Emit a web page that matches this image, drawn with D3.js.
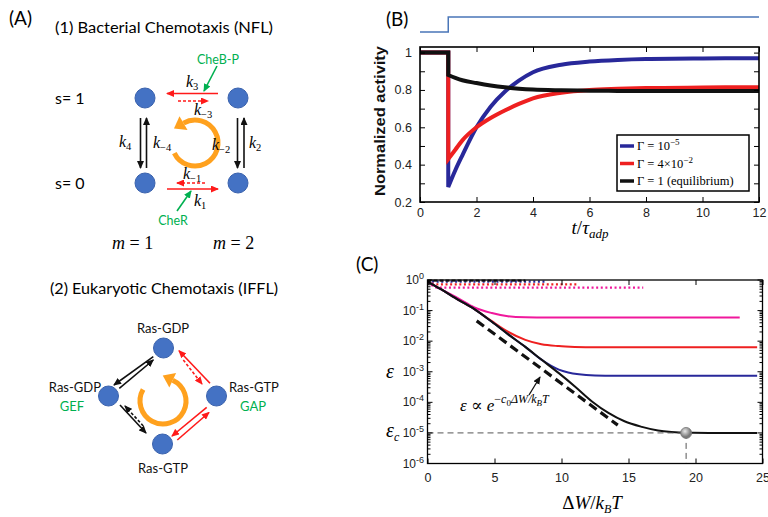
<!DOCTYPE html>
<html>
<head>
<meta charset="utf-8">
<script src="https://cdn.jsdelivr.net/npm/d3@7"></script>
<style>
  body { margin: 0; background: #fff; }
  svg { display: block; }
</style>
</head>
<body>
<script>
// ---- panel B : normalized activity after a step at t = 1 ----
var bT     = [0, 1, 1,    1.25, 1.5,  2,    2.5,  3,     3.5,  4,     5,     6,     7,     8,     10,    12];
var bBlue  = [1, 1, 0.28, 0.37, 0.45, 0.60, 0.71, 0.79,  0.85, 0.895, 0.935, 0.952, 0.961, 0.966, 0.969, 0.970];
var bRed   = [1, 1, 0.43, 0.48, 0.53, 0.60, 0.65, 0.69,  0.725,0.755, 0.785, 0.800, 0.806, 0.810, 0.813, 0.815];
var bBlack = [1, 1, 0.88, 0.865,0.852,0.837,0.824,0.814, 0.807,0.802, 0.798, 0.796, 0.795, 0.795, 0.795, 0.795];
var stepT  = [0, 1, 1, 12];
var stepV  = [0, 0, 1, 1];
var bLegend = ["Γ = 10", "Γ = 4×10", "Γ = 1 (equilibrium)"];
var bLegendExp = ["−5", "−2", ""];
var bYTicks = [0.2, 0.3, 0.4, 0.5, 0.6, 0.7, 0.8, 0.9, 1.0];
var bXTicks = [0, 2, 4, 6, 8, 10, 12];

// ---- panel C : error vs dissipated energy ----
var cBlackX = [0, 1, 2.3, 3.5, 4.8, 6, 7.3, 8.5, 9.8, 11, 12.3, 13.5, 14.7, 16, 17.2, 18.2, 19.3, 21, 24.6];
var cBlackE = [0.89, 0.5, 0.224, 0.112, 0.043, 0.017, 0.0065, 0.0025, 9.0e-4, 3.3e-4, 1.05e-4, 4.5e-5, 2.4e-5, 1.58e-5, 1.2e-5, 1.07e-5, 1.01e-5, 1.0e-5, 1.0e-5];
var cBlueX  = [0, 1, 2.3, 3.5, 4.8, 6, 7.3, 8.5, 9.2, 9.8, 10.5, 11.3, 12.5, 14, 24.6];
var cBlueE  = [0.89, 0.5, 0.224, 0.112, 0.043, 0.017, 0.0065, 0.0025, 1.58e-3, 1.17e-3, 9.5e-4, 8.3e-4, 7.6e-4, 7.4e-4, 7.4e-4];
var cRedX   = [0, 1, 2.3, 3.5, 4.8, 6, 7.3, 8.5, 9.8, 11, 12.5, 24.6];
var cRedE   = [0.89, 0.5, 0.224, 0.112, 0.045, 0.0204, 0.011, 0.0079, 0.0069, 0.0065, 0.0063, 0.0063];
var cPinkX  = [0, 1, 2.3, 3.5, 4.8, 6, 7.3, 9, 23.3];
var cPinkE  = [0.89, 0.5, 0.25, 0.126, 0.083, 0.065, 0.060, 0.059, 0.059];
// short dotted runs near the top
var cDotBlackX = [0, 0.8, 7.3],  cDotBlackE = [0.95, 0.95, 0.95];
var cDotBlueX  = [0, 0.8, 8.9],  cDotBlueE  = [0.93, 0.89, 0.89];
var cDotRedX   = [0, 0.8, 11.2], cDotRedE   = [0.88, 0.72, 0.72];
var cDotPinkX  = [0, 0.8, 16.1], cDotPinkE  = [0.85, 0.56, 0.56];
var cFitX = [3.67, 14.2];            // dashed guide  eps ~ exp(-c0 dW)
var cFitE = [0.046, 1.8e-5];
var epsC = 1e-5, dWc = 19.3;         // marked point
var cXTicks = [0, 5, 10, 15, 20, 25];
var cYExp = [0, -1, -2, -3, -4, -5, -6];

var serif = "'Liberation Serif', 'DejaVu Serif', serif";
var sans  = "'Liberation Sans', Arial, sans-serif";
var cal   = "Lato, 'Open Sans', sans-serif";

var svg = d3.select("body").append("svg").attr("width", 768).attr("height", 517);
svg.append("rect").attr("width", 768).attr("height", 517).attr("fill", "#fff");

// text with sub / superscripts, parts: {t, i (italic), lvl (px shift), fs}
function rich(g, x, y, parts, size, anchor) {
    var t = g.append("text").attr("x", x).attr("y", y)
        .attr("font-size", size).attr("font-family", serif)
        .attr("text-anchor", anchor || "start");
    var cur = 0;
    parts.forEach(function(p) {
        var lvl = p.lvl || 0;
        var ts = t.append("tspan").text(p.t);
        if (lvl !== cur) { ts.attr("dy", lvl - cur); cur = lvl; }
        if (p.i) ts.attr("font-style", "italic");
        if (p.fs) ts.attr("font-size", p.fs);
    });
    return t;
}

// arrow markers
var defs = svg.append("defs");
[["red", "#ff1a1a"], ["blk", "#111"], ["grn", "#00b050"]].forEach(function(c) {
    defs.append("marker").attr("id", "ah-" + c[0])
        .attr("markerUnits", "userSpaceOnUse")
        .attr("markerWidth", 8).attr("markerHeight", 7)
        .attr("refX", 7).attr("refY", 3.5).attr("orient", "auto")
        .append("path").attr("d", "M0,0 L8,3.5 L0,7 z").attr("fill", c[1]);
});
var grad = defs.append("radialGradient").attr("id", "ball").attr("cx", "40%").attr("cy", "35%");
grad.append("stop").attr("offset", "0%").attr("stop-color", "#e8e8e8");
grad.append("stop").attr("offset", "100%").attr("stop-color", "#7a7a7a");

function arrow(g, seg, col, dashed) {
    var colour = {red: "#ff1a1a", blk: "#111", grn: "#00b050"}[col];
    g.append("line")
        .attr("x1", seg[0]).attr("y1", seg[1]).attr("x2", seg[2]).attr("y2", seg[3])
        .attr("stroke", colour).attr("stroke-width", 1.6)
        .attr("stroke-dasharray", dashed ? "3,2" : null)
        .attr("marker-end", "url(#ah-" + col + ")");
}

function cycleArrow(g, cx, cy, r, a0, a1) {
    var rad = Math.PI / 180;
    var p0 = [cx + r * Math.cos(a0 * rad), cy + r * Math.sin(a0 * rad)];
    var p1 = [cx + r * Math.cos(a1 * rad), cy + r * Math.sin(a1 * rad)];
    var large = Math.abs(a0 - a1) > 180 ? 1 : 0;
    g.append("path")
        .attr("d", "M" + p0 + " A" + r + "," + r + " 0 " + large + " 0 " + p1)
        .attr("fill", "none").attr("stroke", "#ffa11e").attr("stroke-width", 5);
    var t = [Math.sin(a1 * rad), -Math.cos(a1 * rad)], n = [Math.cos(a1 * rad), Math.sin(a1 * rad)];
    var tip = [p1[0] + t[0] * 11, p1[1] + t[1] * 11];
    g.append("path")
        .attr("d", "M" + tip + " L" + [p1[0] + n[0] * 8, p1[1] + n[1] * 8] +
                   " L" + [p1[0] - n[0] * 8, p1[1] - n[1] * 8] + " z")
        .attr("fill", "#ffa11e");
}

function node(g, x, y) {
    g.append("circle").attr("cx", x).attr("cy", y).attr("r", 10)
        .attr("fill", "#4472c4").attr("stroke", "#3a62ad").attr("stroke-width", 1);
}

// ================= panel A =================
var gA = svg.append("g");
gA.append("text").attr("x", 9).attr("y", 25).attr("font-family", cal).attr("font-size", 19).text("(A)");
gA.append("text").attr("x", 55).attr("y", 33).attr("font-family", cal).attr("font-size", 15.5)
    .attr("textLength", 218).attr("lengthAdjust", "spacingAndGlyphs").text("(1) Bacterial Chemotaxis (NFL)");

gA.append("text").attr("x", 55).attr("y", 104).attr("font-family", cal).attr("font-size", 16).text("s= 1");
gA.append("text").attr("x", 55).attr("y", 189).attr("font-family", cal).attr("font-size", 16).text("s= 0");
rich(gA, 112, 249, [{t: "m", i: true}, {t: " = 1"}], 18);
rich(gA, 213, 249, [{t: "m", i: true}, {t: " = 2"}], 18);

cycleArrow(gA, 195, 143, 23, 154, -120);
arrow(gA, [218, 93.5, 167, 93.5], "red");
arrow(gA, [178, 101, 208, 101], "red", true);
arrow(gA, [205, 183, 177, 183], "red", true);
arrow(gA, [167, 189, 218, 189], "red");
arrow(gA, [140.5, 118, 140.5, 168], "blk");
arrow(gA, [146.5, 168, 146.5, 118], "blk");
arrow(gA, [237.5, 118, 237.5, 168], "blk");
arrow(gA, [244, 168, 244, 118], "blk");
arrow(gA, [217, 66, 204, 91], "grn");
arrow(gA, [177, 211, 191, 191], "grn");
[[145, 98], [238, 98], [145, 183], [238, 183]].forEach(function(p) { node(gA, p[0], p[1]); });

gA.append("text").attr("x", 218).attr("y", 64).attr("text-anchor", "middle").attr("font-family", cal)
    .attr("font-size", 12.5).attr("fill", "#00b050").text("CheB-P");
gA.append("text").attr("x", 173).attr("y", 225).attr("text-anchor", "middle").attr("font-family", cal)
    .attr("font-size", 12.5).attr("fill", "#00b050").text("CheR");

[["3", 186, 87], ["−3", 194, 115], ["4", 119, 147], ["−4", 153, 148], ["−2", 212, 150],
 ["2", 249, 148], ["−1", 183, 179], ["1", 194, 206]].forEach(function(k) {
    rich(gA, k[1], k[2], [{t: "k", i: true}, {t: k[0], lvl: 3, fs: 10.5}], 16);
});

gA.append("text").attr("x", 50).attr("y", 294).attr("font-family", cal).attr("font-size", 15.5)
    .attr("textLength", 228).attr("lengthAdjust", "spacingAndGlyphs").text("(2) Eukaryotic Chemotaxis (IFFL)");

cycleArrow(gA, 163, 401, 23, 210, -65);
arrow(gA, [153.3, 356.7, 114, 385], "blk");
arrow(gA, [119.3, 388.3, 153.3, 360], "blk");
arrow(gA, [120, 405, 146, 433], "blk");
arrow(gA, [143.3, 426, 125, 406], "blk", true);
arrow(gA, [210, 383.3, 179, 350.7], "red");
arrow(gA, [183.3, 360, 202, 384], "red", true);
arrow(gA, [206.7, 407.3, 172, 436], "red");
arrow(gA, [177.3, 440, 209, 412.5], "red");
[[163.5, 348], [108.5, 396], [216.5, 396], [162.5, 444]].forEach(function(p) { node(gA, p[0], p[1]); });

function lab(x, y, s, anchor, col) {
    gA.append("text").attr("x", x).attr("y", y).attr("text-anchor", anchor).attr("font-family", cal)
        .attr("font-size", 13).attr("fill", col || "#111").text(s);
}
lab(163, 333, "Ras-GDP", "middle");
lab(101, 392, "Ras-GDP", "end");
lab(72, 411, "GEF", "middle", "#00b050");
lab(229, 392, "Ras-GTP", "start");
lab(253, 411, "GAP", "middle", "#00b050");
lab(163, 473, "Ras-GTP", "middle");

// ================= panel B =================
var gB = svg.append("g");
var xB = d3.scaleLinear().domain([0, 12]).range([420, 759]);
var yB = d3.scaleLinear().domain([0.2, 1.03]).range([202, 47]);
var ySt = d3.scaleLinear().domain([0, 1]).range([32, 17]);

gB.append("text").attr("x", 386).attr("y", 26).attr("font-family", cal).attr("font-size", 19).text("(B)");

gB.append("path")
    .attr("d", d3.line().x(function(d) { return xB(d[0]); }).y(function(d) { return ySt(d[1]); })(d3.zip(stepT, stepV)))
    .attr("fill", "none").attr("stroke", "#4a76b8").attr("stroke-width", 1.5);

gB.append("rect").attr("x", 420).attr("y", 47).attr("width", 339).attr("height", 155)
    .attr("fill", "#fff");

var lnB = d3.line().x(function(d) { return xB(d[0]); }).y(function(d) { return yB(d[1]); });
var lnBs = d3.line().curve(d3.curveMonotoneX).x(function(d) { return xB(d[0]); }).y(function(d) { return yB(d[1]); });
function bPath(vals) {
    var pts = d3.zip(bT, vals);
    var head = lnB(pts.slice(0, 3));
    var tail = lnBs(pts.slice(2)).replace(/^M[^LC]*/, "");
    return head + tail;
}
[[bBlue, "#28289a"], [bRed, "#ee2020"], [bBlack, "#111"]].forEach(function(s) {
    gB.append("path").attr("d", bPath(s[0])).attr("fill", "none")
        .attr("stroke", s[1]).attr("stroke-width", 4).attr("stroke-linejoin", "miter");
});

function styleAxis(g, fs) {
    g.select(".domain").remove();
    g.selectAll(".tick line").attr("stroke", "#000");
    g.selectAll(".tick text").attr("font-family", sans).attr("font-size", fs || 12.5).attr("fill", "#222");
}
var bFmt = function(d) { return Math.round(d * 10) % 2 === 0 ? d3.format("~g")(d) : ""; };
gB.append("g").attr("transform", "translate(420,0)")
    .call(d3.axisLeft(yB).tickValues(bYTicks).tickFormat(bFmt).tickSizeInner(-5).tickSizeOuter(0).tickPadding(8))
    .call(styleAxis);
gB.append("g").attr("transform", "translate(759,0)")
    .call(d3.axisRight(yB).tickValues(bYTicks).tickFormat("").tickSizeInner(-5).tickSizeOuter(0))
    .call(styleAxis);
gB.append("g").attr("transform", "translate(0,202)")
    .call(d3.axisBottom(xB).tickValues(bXTicks).tickSizeInner(-5).tickSizeOuter(0).tickPadding(6))
    .call(styleAxis);
gB.append("g").attr("transform", "translate(0,47)")
    .call(d3.axisTop(xB).tickValues(bXTicks).tickFormat("").tickSizeInner(-5).tickSizeOuter(0))
    .call(styleAxis);
gB.append("rect").attr("x", 420).attr("y", 47).attr("width", 339).attr("height", 155)
    .attr("fill", "none").attr("stroke", "#000").attr("stroke-width", 1.6);

// legend
gB.append("rect").attr("x", 617).attr("y", 135).attr("width", 132).attr("height", 56)
    .attr("fill", "#fff").attr("stroke", "#000").attr("stroke-width", 1.5);
["#28289a", "#ee2020", "#111"].forEach(function(c, i) {
    var y = 146 + i * 17.5;
    gB.append("line").attr("x1", 620).attr("x2", 634).attr("y1", y).attr("y2", y)
        .attr("stroke", c).attr("stroke-width", 3.5);
    var parts = [{t: bLegend[i]}];
    if (bLegendExp[i]) parts.push({t: bLegendExp[i], lvl: -5, fs: 9});
    rich(gB, 637, y + 4, parts, 12.5);
});

gB.append("text").attr("transform", "translate(385,121) rotate(-90)").attr("text-anchor", "middle")
    .attr("font-family", sans).attr("font-weight", "bold").attr("font-size", 14).attr("fill", "#111")
    .attr("textLength", 150).attr("lengthAdjust", "spacingAndGlyphs")
    .text("Normalized activity");
rich(gB, 590, 234, [{t: "t", i: true}, {t: "/"}, {t: "τ", i: true}, {t: "adp", i: true, lvl: 4, fs: 13}], 19, "middle");

// ================= panel C =================
var gC = svg.append("g");
var xC = d3.scaleLinear().domain([0, 25]).range([427.5, 762.5]);
var yC = d3.scaleLog().domain([1e-6, 1]).range([463.5, 280]);

gC.append("text").attr("x", 356).attr("y", 271).attr("font-family", cal).attr("font-size", 19).text("(C)");
gC.append("rect").attr("x", 427.5).attr("y", 280).attr("width", 335).attr("height", 183.5).attr("fill", "#fff");

var lnC = d3.line().curve(d3.curveMonotoneX).x(function(d) { return xC(d[0]); }).y(function(d) { return yC(d[1]); });
function cLine(xs, es, col, w, dash) {
    return gC.append("path").attr("d", lnC(d3.zip(xs, es))).attr("fill", "none")
        .attr("stroke", col).attr("stroke-width", w).attr("stroke-dasharray", dash || null);
}
cLine(cDotPinkX, cDotPinkE, "#f0189c", 2.2, "2,2.6");
cLine(cDotRedX, cDotRedE, "#ee2020", 2.2, "2,2.6");
cLine(cDotBlueX, cDotBlueE, "#28289a", 2.2, "2,2.6");
cLine(cDotBlackX, cDotBlackE, "#222", 2.2, "4,2");
cLine(cPinkX, cPinkE, "#f0189c", 2);
cLine(cRedX, cRedE, "#ee2020", 2);
cLine(cBlueX, cBlueE, "#28289a", 2);
cLine(cBlackX, cBlackE, "#111", 2);
cLine(cFitX, cFitE, "#111", 3.2, "9,5");

gC.append("line").attr("x1", xC(0)).attr("x2", xC(dWc)).attr("y1", yC(epsC)).attr("y2", yC(epsC))
    .attr("stroke", "#555").attr("stroke-width", 1).attr("stroke-dasharray", "6,4");
gC.append("line").attr("x1", xC(dWc)).attr("x2", xC(dWc)).attr("y1", yC(epsC)).attr("y2", yC(1e-6))
    .attr("stroke", "#555").attr("stroke-width", 1).attr("stroke-dasharray", "6,4");
gC.append("circle").attr("cx", xC(dWc)).attr("cy", yC(epsC)).attr("r", 5.5)
    .attr("fill", "url(#ball)").attr("stroke", "#777").attr("stroke-width", 0.8);

// annotation
gC.append("line").attr("x1", 529).attr("y1", 395).attr("x2", 540).attr("y2", 377)
    .attr("stroke", "#111").attr("stroke-width", 1.3).attr("marker-end", "url(#ah-blk)");
rich(gC, 460, 411, [{t: "ε", i: true}, {t: " ∝ "}, {t: "e", i: true},
    {t: "−", lvl: -8, fs: 12}, {t: "c", i: true, lvl: -8, fs: 12}, {t: "0", lvl: -5, fs: 9},
    {t: "ΔW/", i: true, lvl: -8, fs: 12}, {t: "k", i: true, lvl: -8, fs: 12}, {t: "B", i: true, lvl: -5, fs: 9},
    {t: "T", i: true, lvl: -8, fs: 12}], 17);

// axes
var minor = [];
for (var k = -6; k < 0; k++) for (var m = 2; m <= 9; m++) minor.push(m * Math.pow(10, k));
var major = cYExp.map(function(e) { return Math.pow(10, e); });
[[427.5, 1], [762.5, -1]].forEach(function(s) {
    gC.selectAll(null).data(major).enter().append("line")
        .attr("x1", s[0]).attr("x2", s[0] + 5 * s[1]).attr("y1", function(d) { return yC(d); }).attr("y2", function(d) { return yC(d); })
        .attr("stroke", "#000");
    gC.selectAll(null).data(minor).enter().append("line")
        .attr("x1", s[0]).attr("x2", s[0] + 3 * s[1]).attr("y1", function(d) { return yC(d); }).attr("y2", function(d) { return yC(d); })
        .attr("stroke", "#000");
});
cYExp.forEach(function(e) {
    var t = gC.append("text").attr("x", 424).attr("y", yC(Math.pow(10, e)) + 4).attr("text-anchor", "end")
        .attr("font-family", sans).attr("font-size", 12).attr("fill", "#222");
    t.append("tspan").text("10");
    t.append("tspan").attr("dy", -5).attr("font-size", 9).text(e === 0 ? "0" : "-" + (-e));
});
gC.append("g").attr("transform", "translate(0,463.5)")
    .call(d3.axisBottom(xC).tickValues(cXTicks).tickSizeInner(-5).tickSizeOuter(0).tickPadding(10))
    .call(styleAxis);
gC.append("g").attr("transform", "translate(0,280)")
    .call(d3.axisTop(xC).tickValues(cXTicks).tickFormat("").tickSizeInner(-5).tickSizeOuter(0))
    .call(styleAxis);
gC.append("rect").attr("x", 427.5).attr("y", 280).attr("width", 335).attr("height", 183.5)
    .attr("fill", "none").attr("stroke", "#000").attr("stroke-width", 1.3);

rich(gC, 386, 378, [{t: "ε", i: true}], 20);
rich(gC, 386, 437, [{t: "ε", i: true}, {t: "c", i: true, lvl: 4, fs: 12}], 20);
rich(gC, 592, 509, [{t: "Δ"}, {t: "W", i: true}, {t: "/"}, {t: "k", i: true},
    {t: "B", i: true, lvl: 4, fs: 12}, {t: "T", i: true, lvl: 0}], 19, "middle");
</script>
</body>
</html>
